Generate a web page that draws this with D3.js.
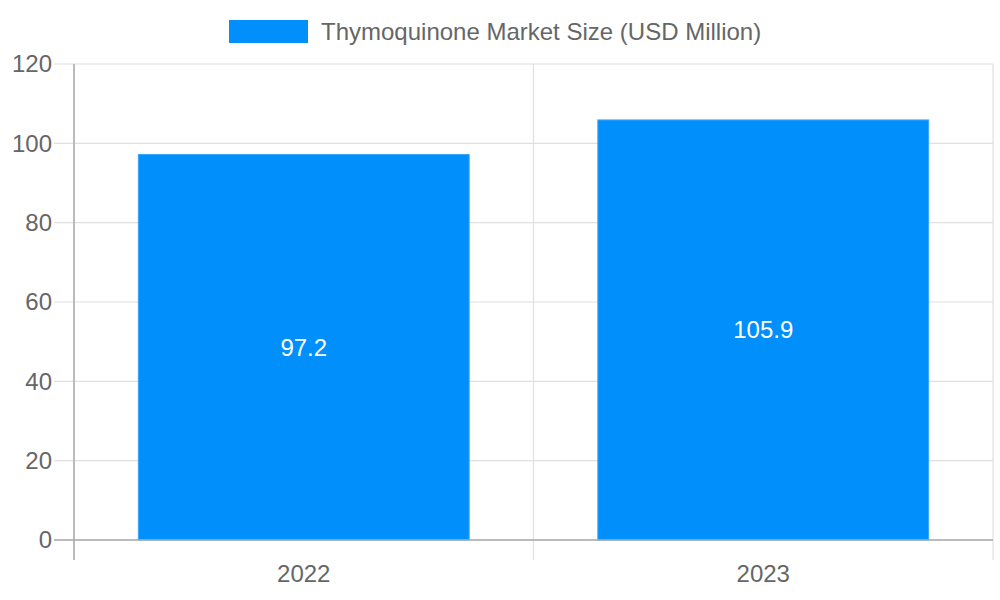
<!DOCTYPE html>
<html>
<head>
<meta charset="utf-8">
<script src="https://cdn.jsdelivr.net/npm/d3@7"></script>
<style>
  body { margin: 0; background: #fff; }
  text { font-family: "Liberation Sans", Arial, sans-serif; }
</style>
</head>
<body>
<div class="chart"></div>
<script>
const categories = ['2022', '2023'];
const values = [97.2, 105.9];
const yTicks = [0, 20, 40, 60, 80, 100, 120];
const seriesName = 'Thymoquinone Market Size (USD Million)';

const margin = { top: 64, right: 7, bottom: 60, left: 74 };
const width = 1000 - margin.left - margin.right;
const height = 600 - margin.top - margin.bottom;
const barColor = '#008ffb';

const svg = d3.select('.chart')
  .append('svg')
  .attr('width', 1000)
  .attr('height', 600);

const g = svg.append('g')
  .attr('transform', `translate(${margin.left}, ${margin.top})`);

const xScale = d3.scaleBand()
  .domain(categories)
  .range([0, width])
  .paddingInner(0)
  .paddingOuter(0);

const yScale = d3.scaleLinear()
  .domain([0, 120])
  .range([height, 0]);

// horizontal grid (with tick stubs on the left)
g.append('g')
  .selectAll('line')
  .data(yTicks)
  .join('line')
  .attr('x1', -20)
  .attr('x2', width)
  .attr('y1', d => yScale(d))
  .attr('y2', d => yScale(d))
  .attr('stroke', '#e0e0e0')
  .attr('stroke-width', 1.2);

// vertical grid at category edges
const edges = categories.map(c => xScale(c)).concat([width]);
g.append('g')
  .selectAll('line')
  .data(edges)
  .join('line')
  .attr('x1', d => d)
  .attr('x2', d => d)
  .attr('y1', 0)
  .attr('y2', height + 20)
  .attr('stroke', '#e0e0e0')
  .attr('stroke-width', 1.2);

// y tick labels
g.append('g')
  .selectAll('text')
  .data(yTicks)
  .join('text')
  .attr('x', -22)
  .attr('y', d => yScale(d))
  .attr('dy', '0.35em')
  .attr('text-anchor', 'end')
  .attr('font-size', 24)
  .attr('fill', '#666')
  .text(d => d);

// bars: Chart.js-like 0.9 * 0.8 of category
const barW = xScale.bandwidth() * 0.72;
g.append('g')
  .selectAll('rect')
  .data(values)
  .join('rect')
  .attr('x', (d, i) => xScale(categories[i]) + (xScale.bandwidth() - barW) / 2)
  .attr('y', d => yScale(d))
  .attr('width', barW)
  .attr('height', d => height - yScale(d))
  .attr('fill', barColor)
  .attr('stroke', '#3aa6ff')
  .attr('stroke-width', 1);

// value labels
g.append('g')
  .selectAll('text')
  .data(values)
  .join('text')
  .attr('x', (d, i) => xScale(categories[i]) + xScale.bandwidth() / 2)
  .attr('y', d => (yScale(d) + height) / 2)
  .attr('dy', '0.35em')
  .attr('text-anchor', 'middle')
  .attr('font-size', 24)
  .attr('fill', '#fff')
  .text(d => d);

// axis lines
g.append('line')
  .attr('x1', 0).attr('x2', 0)
  .attr('y1', 0).attr('y2', height + 20)
  .attr('stroke', '#aaa').attr('stroke-width', 1.5);
g.append('line')
  .attr('x1', -20).attr('x2', width)
  .attr('y1', height).attr('y2', height)
  .attr('stroke', '#aaa').attr('stroke-width', 1.5);

// x labels
g.append('g')
  .selectAll('text')
  .data(categories)
  .join('text')
  .attr('x', d => xScale(d) + xScale.bandwidth() / 2)
  .attr('y', height + 34)
  .attr('dy', '0.35em')
  .attr('text-anchor', 'middle')
  .attr('font-size', 24)
  .attr('fill', '#666')
  .text(d => d);

// legend
const legend = svg.append('g');
legend.append('rect')
  .attr('x', 229).attr('y', 20)
  .attr('width', 79).attr('height', 23)
  .attr('fill', barColor);
legend.append('text')
  .attr('x', 321).attr('y', 32)
  .attr('dy', '0.35em')
  .attr('font-size', 24)
  .attr('fill', '#666')
  .text(seriesName);
</script>
</body>
</html>
